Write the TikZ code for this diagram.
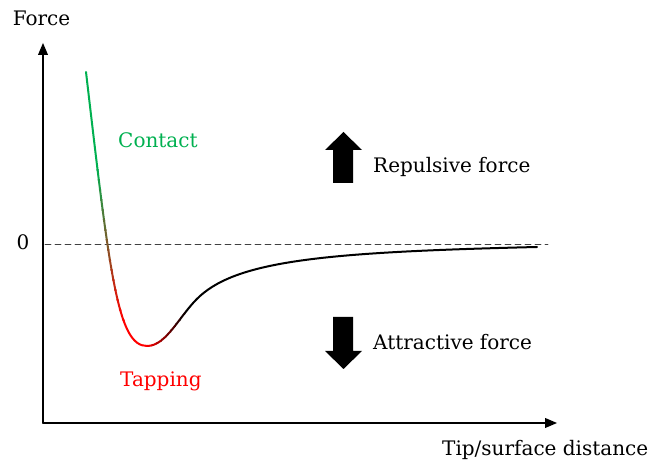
\documentclass[tikz,border=0pt]{standalone}
\usepackage{fontspec}
\setmainfont{DejaVu Serif}
\usetikzlibrary{arrows}
\definecolor{contactgreen}{RGB}{0,176,80}
\definecolor{tapred}{RGB}{255,0,0}
\newcommand{\forcecurve}{(86,396) .. controls (110,190) and (118,122) .. (147,122) .. controls (167,122) and (180,154) .. (200,172) .. controls (240,208) and (330,216) .. (537,221)}

\begin{document}
\begin{tikzpicture}[x=1pt,y=1pt,line cap=round,line join=round,>=triangle 45,
  lbl/.style={font=\fontsize{20}{24}\selectfont,inner sep=0pt},
  curve/.style={line width=2pt}]
\useasboundingbox (0,0) rectangle (659,468);
% axes
\coordinate (origin) at (43,45);
\coordinate (ytop) at (43,425);
\coordinate (xend) at (557,45);
\draw[line width=1.8pt,->] (origin) -- (ytop);
\draw[line width=1.8pt,->] (origin) -- (xend);
% zero level
\coordinate (zl) at (45,224);
\coordinate (zr) at (548,224);
\draw[dash pattern=on 6pt off 4pt,line width=0.8pt,black!75] (zl) -- (zr);
% curve: black tail
\begin{scope}
\clip (185,0) rectangle (659,468);
\draw[curve] \forcecurve;
\end{scope}
% curve: green top
\begin{scope}
\clip (0,297.5) rectangle (147,468);
\draw[curve,contactgreen] \forcecurve;
\end{scope}
% curve: green to red
\foreach \i in {0,...,14} {
  \pgfmathsetmacro\pct{100*(\i+0.5)/15}
  \begin{scope}
  \clip (0,298-10*\i) rectangle (147,287.5-10*\i);
  \draw[curve,draw=tapred!\pct!contactgreen] \forcecurve;
  \end{scope}
}
% curve: red bottom
\begin{scope}
\clip (0,0) rectangle (147,148);
\draw[curve,tapred] \forcecurve;
\end{scope}
% curve: red to black
\foreach \j in {0,...,7} {
  \pgfmathsetmacro\pct{100*(\j+0.5)/8}
  \begin{scope}
  \clip (146.8+4.75*\j,0) rectangle (147.3+4.75*\j+4.75,468);
  \draw[curve,draw=black!\pct!tapred] \forcecurve;
  \end{scope}
}
% block arrows
\fill (333,285) -- (333,318) -- (325,318) -- (343.5,336) -- (362,318) -- (353,318) -- (353,285) -- cycle;
\fill (333,151) -- (333,117) -- (325,117) -- (343.5,99) -- (362,117) -- (353,117) -- (353,151) -- cycle;
% labels
\node[lbl,anchor=base] (force) at (41.5,442) {Force};
\node[lbl,anchor=base] (zero) at (23,218) {0};
\node[lbl,anchor=base west,text=contactgreen] (contact) at (118,320) {Contact};
\node[lbl,anchor=base west,text=tapred] (tapping) at (120,81) {Tapping};
\node[lbl,anchor=base west] (repulsive) at (373,295) {Repulsive force};
\node[lbl,anchor=base west] (attractive) at (373,118) {Attractive force};
\node[lbl,anchor=base west] (distance) at (442,12) {Tip/surface distance};
\end{tikzpicture}
\end{document}
